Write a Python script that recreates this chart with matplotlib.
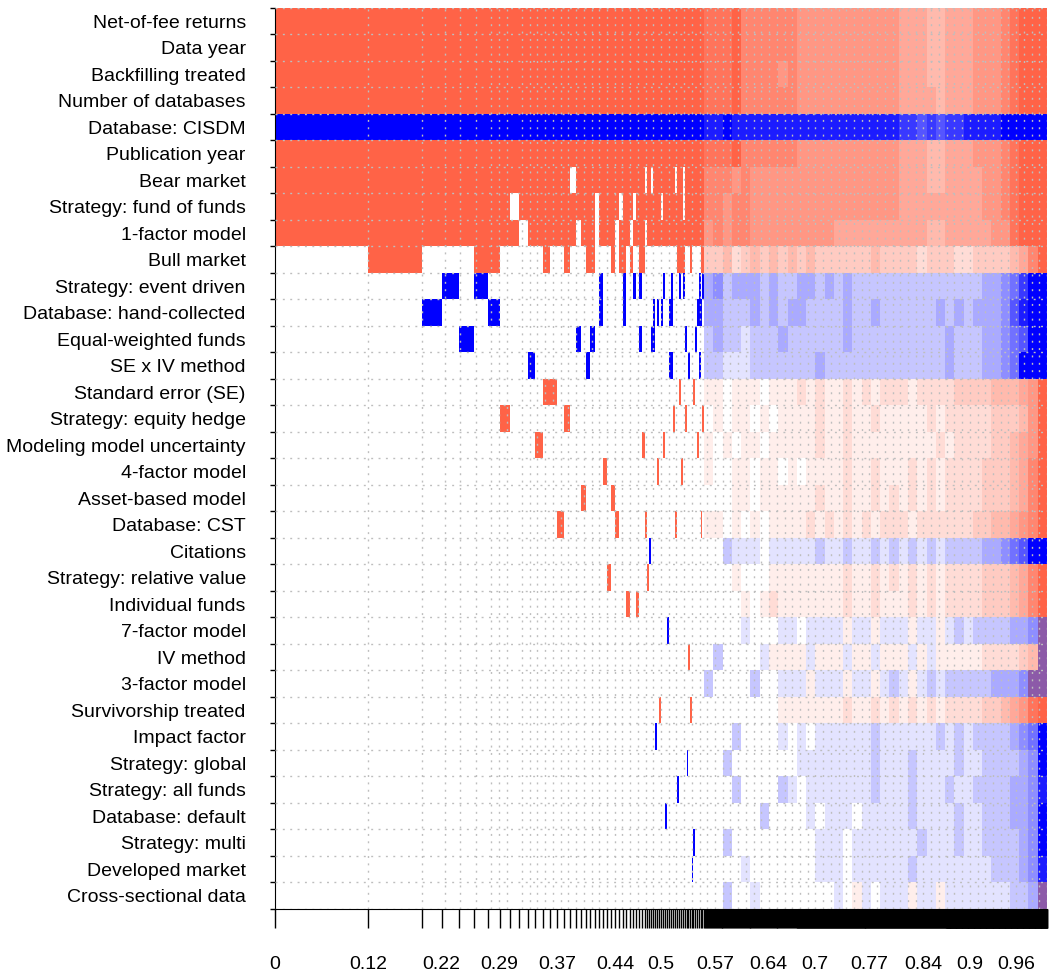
import numpy as np
import matplotlib
matplotlib.use("Agg")
import matplotlib.pyplot as plt
from matplotlib.colors import to_rgb

plt.rcParams['font.family'] = ['Liberation Sans', 'DejaVu Sans']

variables = ["Net-of-fee returns", "Data year", "Backfilling treated", "Number of databases",
             "Database: CISDM", "Publication year", "Bear market", "Strategy: fund of funds",
             "1-factor model", "Bull market", "Strategy: event driven", "Database: hand-collected",
             "Equal-weighted funds", "SE x IV method", "Standard error (SE)", "Strategy: equity hedge",
             "Modeling model uncertainty", "4-factor model", "Asset-based model", "Database: CST",
             "Citations", "Strategy: relative value", "Individual funds", "7-factor model",
             "IV method", "3-factor model", "Survivorship treated", "Impact factor",
             "Strategy: global", "Strategy: all funds", "Database: default", "Strategy: multi",
             "Developed market", "Cross-sectional data"]

# sign of the coefficient: 1 positive (red), -1 negative (blue)
var_sign = [1, 1, 1, 1, -1, 1, 1, 1, 1, 1, -1, -1, -1, -1, 1, 1, 1, 1, 1, 1,
            -1, 1, 1, -1, 1, -1, 1, -1, -1, -1, -1, -1, -1, -1]

# posterior model probabilities of the best models
top_pmp = [0.1205, 0.0703, 0.0251, 0.0224, 0.0198, 0.0174, 0.0155, 0.0130, 0.0120, 0.0113,
           0.0095, 0.0100, 0.0095, 0.0095, 0.0087, 0.0082, 0.0074, 0.0065, 0.0065, 0.0052,
           0.0058, 0.0052, 0.0058, 0.0052, 0.0052, 0.0052, 0.0052, 0.0045, 0.0045, 0.0045,
           0.0045, 0.0039, 0.0039, 0.0039, 0.0035, 0.0030, 0.0026, 0.0026, 0.0026, 0.0026,
           0.0026, 0.0026, 0.0026, 0.0026, 0.0026, 0.0026, 0.0026, 0.0026, 0.0026, 0.0026,
           0.0026, 0.0026, 0.0026, 0.0026, 0.0026, 0.0019, 0.0019, 0.0026, 0.0019, 0.0019,
           0.0026, 0.0026, 0.0026, 0.0019, 0.0019, 0.0026]

# variables (row numbers) included in each of those models
top_models = ["1-9", "1-10", "1-9,12", "1-9,11", "1-9,13", "1-11", "1-10,12", "1-9,16",
              "1-7,9", "1-8", "1-9,14", "1-9,17", "1-10,15", "1-9,15", "1-9,20", "1-10,16",
              "1-6,8,9", "1-8,13", "1-9,19", "1-10,14", "1-10,13", "1-7", "1-9,11,12", "1-9,18",
              "1-9,22", "1-10,19", "1-8,20", "1-7,9,10", "1-12", "1-9,23", "1-8,10", "1-7,9,11",
              "1-9,23", "1-11,13", "1-10,17", "1-6,8,20", "1-9,22", "1-9,21", "1-6,8,9,13",
              "1-9,12,13", "1-9,28", "1-9,12,18", "1-9,27", "1-7,9,12", "1-9,11,17", "1-9,31",
              "1-9,24", "1-9,12,14", "1-9,11,12,14", "1-9,16", "1-6,8,9,20", "1-10,30",
              "1-11,15", "1-10,18", "1-6,9,10,11", "1-9,13,16", "1-9,29", "1-9,14,25",
              "1-10,27", "1-9,33", "1-9,15,32", "1-9,13", "1-9,12,17", "1-9,11,12,14",
              "1-10,12,20", "1-11,16"]

# long tail of small models: how many, and the probability of each
tail_count = [96, 300, 420]
tail_pmp = [0.00125, 0.000645, 0.000311]

# how strongly each variable shows along the tail
# 0-9 share in the variable's own colour, a-i the opposite colour, m mixed
tail_rows = [
    "8889" "77777" "76666" "6666666" "5554455" "5666" "78999",
    "8889" "77777" "76666" "6666666" "5554455" "5666" "78999",
    "8889" "77776" "76666" "6666666" "5554455" "5666" "78999",
    "8889" "77777" "76666" "6666666" "5555455" "5666" "78999",
    "8898" "88888" "88888" "8888888" "7767677" "8888" "99999",
    "8889" "77777" "76666" "6666666" "5554455" "5666" "78999",
    "7776" "76666" "66666" "6666666" "5554455" "5566" "78999",
    "7767" "76666" "66666" "6666666" "5555555" "5566" "78999",
    "6767" "76666" "66666" "5555555" "5554455" "5556" "68999",
    "3342" "34343" "43433" "3333433" "3323332" "2333" "34579",
    "3423" "33232" "23323" "2322222" "2222222" "2233" "45799",
    "3322" "23232" "33222" "2322322" "2222323" "2333" "46899",
    "2322" "12223" "22222" "2322222" "2222232" "2233" "45699",
    "2211" "12222" "22232" "2222222" "2222232" "2233" "45999",
    "1101" "11011" "12121" "1212122" "2122223" "3334" "44569",
    "0101" "10101" "11121" "1211211" "1112122" "2223" "33469",
    "1010" "11011" "11121" "1211111" "1111212" "2223" "34569",
    "1001" "10110" "10111" "1211211" "1212122" "2233" "34579",
    "0001" "10111" "11121" "1211212" "1212122" "2233" "34579",
    "1101" "01011" "11212" "1212122" "2122222" "2334" "45679",
    "0021" "11011" "11121" "1211212" "1212122" "2233" "45699",
    "0001" "00011" "11111" "1211212" "1212122" "2233" "34579",
    "0000" "10121" "11111" "1211211" "1212122" "2233" "34579",
    "0000" "10001" "10111" "1a11a11" "1a11a12" "1222" "2334m",
    "0b00" "00a11" "11a11" "1a11a11" "1a1a111" "1122" "2234m",
    "2000" "02001" "11a11" "1a11a12" "1a12122" "2223" "334mm",
    "0000" "00001" "11111" "1211212" "1212122" "2233" "45689",
    "0002" "00001" "01011" "1111211" "1111212" "1222" "23459",
    "0020" "00000" "01111" "1111211" "1211112" "1122" "22349",
    "0002" "00002" "10111" "1111211" "1211121" "1222" "23348",
    "0000" "00200" "00101" "1101111" "1211112" "1122" "23349",
    "0020" "00000" "00011" "1011111" "1121112" "1122" "22349",
    "0000" "10000" "00011" "1011111" "1211111" "1112" "22348",
    "0020" "01000" "00000" "10a1011" "1a11a11" "1111" "1223m",
]

xlabels = ["0", "0.12", "0.22", "0.29", "0.37", "0.44", "0.5", "0.57", "0.64",
           "0.7", "0.77", "0.84", "0.9", "0.96"]

RED = "#ff6347"
BLUE = "#0000ff"
MIX = "#8c5aa8"
GRID = "#bebebe"


def parse(spec):
    out = []
    for part in spec.split(","):
        if "-" in part:
            a, b = part.split("-")
            out += range(int(a), int(b) + 1)
        else:
            out.append(int(part))
    return out


pmp = np.concatenate([top_pmp, np.repeat(tail_pmp, tail_count)])
edges = np.concatenate([[0], np.cumsum(pmp)]) / pmp.sum()
n_top = len(top_pmp)
tail_start = edges[n_top]
nvar = len(variables)

fig = plt.figure(figsize=(10.56, 9.76), dpi=100)
ax = fig.add_axes([275 / 1056, 1 - 909 / 976, 772 / 1056, 901.25 / 976])

# best models, one column each
for col, sgn in ((RED, 1), (BLUE, -1)):
    lefts, widths, rows = [], [], []
    for m, spec in enumerate(top_models):
        for v in parse(spec):
            if var_sign[v - 1] == sgn:
                lefts.append(edges[m])
                widths.append(edges[m + 1] - edges[m])
                rows.append(v - 1)
    ax.bar(lefts, 1, width=widths, bottom=rows, align='edge', color=col, linewidth=0)

# tail, drawn as shaded cells
white = np.ones(3)
for i, s in enumerate(tail_rows):
    n = len(s)
    w = (1 - tail_start) / n
    own = RED if var_sign[i] > 0 else BLUE
    other = BLUE if var_sign[i] > 0 else RED
    cols = []
    for ch in s:
        if ch == "m":
            cols.append(to_rgb(MIX))
            continue
        if ch.isdigit():
            share, base = int(ch) / 9, own
        else:
            share, base = (ord(ch) - 96) / 9, other
        cols.append(tuple(white * (1 - share) + np.array(to_rgb(base)) * share))
    ax.bar(tail_start + w * np.arange(n), 1, width=w, bottom=i, align='edge',
           color=cols, linewidth=0)

# dotted grid
dots = (0, (1.4, 3.9))
for y in range(nvar + 1):
    ax.axhline(y, color=GRID, lw=1.0, ls=dots, zorder=3)
for x in np.unique(np.round(edges[1:], 2)):
    ax.axvline(x, color=GRID, lw=1.0, ls=dots, zorder=3)

ax.set_xlim(0, 1)
ax.set_ylim(nvar, 0)

ax.set_xticks(edges)
ax.set_xticklabels([])
label_pos = [edges[np.argmin(np.abs(edges - float(l)))] for l in xlabels]
ax.set_xticks(label_pos, minor=True)
ax.set_xticklabels(xlabels, minor=True)
ax.xaxis.remove_overlapping_locs = False
ax.tick_params(axis='x', which='major', length=13.7, width=1.0, color='black')
ax.tick_params(axis='x', which='minor', length=0, pad=34, labelsize=14)

ax.set_yticks(np.arange(nvar + 1))
ax.set_yticklabels([])
ax.set_yticks(np.arange(nvar) + 0.5, minor=True)
ax.set_yticklabels(variables, minor=True)
ax.yaxis.remove_overlapping_locs = False
ax.tick_params(axis='y', which='major', length=3.6, width=1.0, color='black')
ax.tick_params(axis='y', which='minor', length=0, pad=21, labelsize=14)

ax.spines['top'].set_visible(False)
ax.spines['right'].set_visible(False)
ax.spines['left'].set_color('black')
ax.spines['bottom'].set_color('black')

fig.savefig("out.png", dpi=100)
